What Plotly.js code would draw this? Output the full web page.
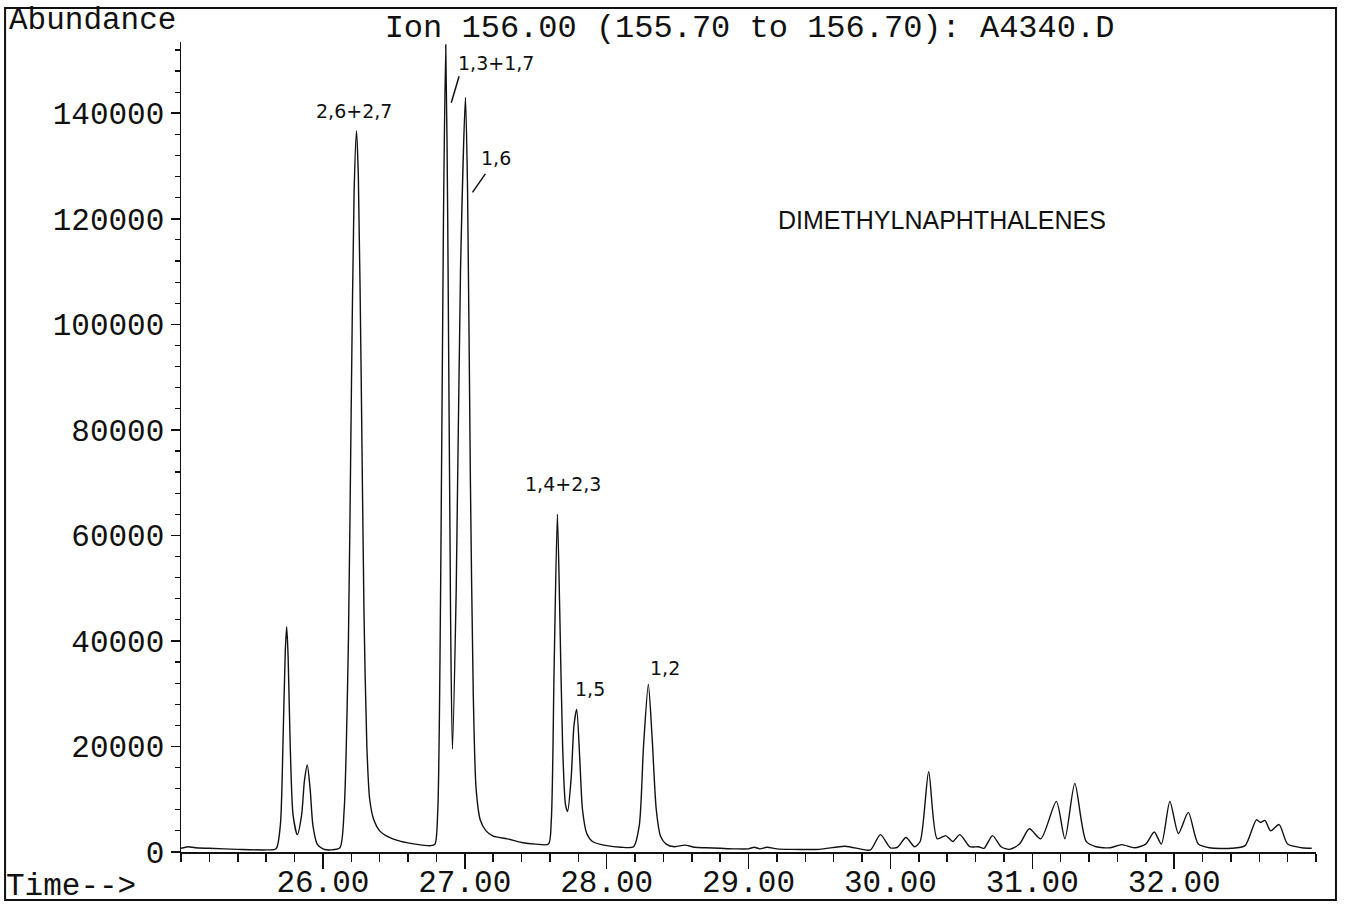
<!DOCTYPE html>
<html>
<head>
<meta charset="utf-8">
<script src="https://cdn.plot.ly/plotly-3.0.1.min.js"></script>
<style>html,body{margin:0;padding:0;background:#fff;}#chart{width:1345px;height:904px;}</style>
</head>
<body>
<div id="chart"></div>
<script>
// Retention time (min) and abundance
const times = [25.00,25.05,25.10,25.20,25.40,25.60,25.67,25.70,25.72,25.735,25.745,25.755,25.77,25.79,25.82,25.85,25.87,25.89,25.91,25.93,25.96,26.00,26.06,26.12,26.15,26.18,26.20,26.22,26.237,26.25,26.27,26.29,26.31,26.33,26.36,26.40,26.45,26.55,26.65,26.76,26.79,26.81,26.83,26.85,26.866,26.88,26.90,26.913,26.94,26.97,27.005,27.02,27.04,27.06,27.08,27.11,27.15,27.20,27.30,27.40,27.50,27.59,27.61,27.63,27.653,27.67,27.69,27.71,27.725,27.75,27.77,27.789,27.81,27.83,27.86,27.90,28.00,28.10,28.19,28.23,28.26,28.294,28.32,28.35,28.38,28.42,28.48,28.55,28.62,28.70,28.80,28.90,29.00,29.04,29.08,29.13,29.20,29.30,29.50,29.68,29.80,29.86,29.93,30.00,30.05,30.11,30.17,30.21,30.27,30.33,30.39,30.44,30.49,30.56,30.62,30.66,30.72,30.78,30.84,30.91,30.98,31.06,31.17,31.23,31.30,31.38,31.45,31.55,31.63,31.72,31.80,31.86,31.91,31.97,32.03,32.10,32.17,32.25,32.40,32.50,32.58,32.61,32.64,32.68,32.74,32.80,32.90,32.97];
const abundance = [700,1000,800,700,500,400,600,5000,22000,38000,42700,37000,20000,7000,3300,7000,13500,16500,12000,5000,1500,600,400,800,8000,40000,85000,125000,136700,128000,90000,45000,20000,10000,6000,4000,3000,2000,1500,1200,1500,8000,50000,120000,153000,120000,45000,19500,50000,110000,143000,125000,70000,30000,12000,6000,4000,3000,2500,1800,1500,1500,6000,35000,64000,45000,20000,9000,7700,14000,24000,27000,18000,8000,3500,2000,1200,900,1000,5000,20000,31750,22000,8000,3000,1500,1000,1300,900,800,700,600,600,900,600,900,600,500,500,1100,500,400,3300,800,900,2750,1000,2000,15200,2500,3100,2000,3300,1000,1000,700,3100,1000,500,1500,4400,2500,9600,2500,13000,2000,1000,800,1400,800,1500,3800,1500,9600,3500,7500,1500,800,700,1200,6100,5600,6000,4000,5200,1500,800,700];

const xTickVals = [26,27,28,29,30,31,32];
const xTickText = ["26.00","27.00","28.00","29.00","30.00","31.00","32.00"];
const yTickVals = [0,20000,40000,60000,80000,100000,120000,140000];
const yTickText = ["0","20000","40000","60000","80000","100000","120000","140000"];

// Hand-written peak labels: text, time and abundance where each is written
const peakLabels = ["2,6+2,7","1,3+1,7","1,6","1,4+2,3","1,5","1,2"];
const labelTimes = [26.22,27.22,27.22,27.69,27.88,28.41];
const labelAbund = [140500,149500,131500,69800,30800,34800];

const mono = "Courier New, Liberation Mono, monospace";
const hand = "DejaVu Sans, sans-serif";

const trace = {
  x: times, y: abundance, type: "scatter", mode: "lines",
  line: {color: "#111", width: 1.4, shape: "spline", smoothing: 0.7},
  hoverinfo: "x+y"
};

const annotations = peakLabels.map((t, i) => ({
  x: labelTimes[i], y: labelAbund[i], xref: "x", yref: "y",
  text: t, showarrow: false, font: {family: hand, size: 19, color: "#111"}
}));
annotations.push(
  {x: -0.153, y: 1.027, xref: "paper", yref: "paper", xanchor: "left", yanchor: "middle",
   text: "Abundance", showarrow: false, font: {family: mono, size: 31, color: "#111"}},
  {x: -0.156, y: -0.043, xref: "paper", yref: "paper", xanchor: "left", yanchor: "middle",
   text: "Time-->", showarrow: false, font: {family: mono, size: 31, color: "#111"}},
  {x: 0.524, y: 0.78, xref: "paper", yref: "paper", xanchor: "left", yanchor: "middle",
   text: "DIMETHYLNAPHTHALENES", showarrow: false, font: {family: "Liberation Sans, Arial, sans-serif", size: 25, color: "#111"}}
);

const shapes = [
  {type: "rect", xref: "paper", yref: "paper", x0: -0.155, x1: 1.0176, y0: -0.0593, y1: 1.042,
   line: {color: "#111", width: 2}, fillcolor: "rgba(0,0,0,0)"},
  {type: "line", xref: "x", yref: "y", x0: 26.96, y0: 147000, x1: 26.905, y1: 142000, line: {color: "#111", width: 1.5}},
  {type: "line", xref: "x", yref: "y", x0: 27.145, y0: 128500, x1: 27.055, y1: 125000, line: {color: "#111", width: 1.5}}
];

const layout = {
  width: 1345, height: 904,
  margin: {l: 181, r: 29, t: 42, b: 52},
  paper_bgcolor: "#fff", plot_bgcolor: "#fff",
  showlegend: false,
  title: {text: "Ion 156.00 (155.70 to 156.70): A4340.D", x: 0.286, xanchor: "left", xref: "container",
          y: 0.972, yanchor: "middle", yref: "container", font: {family: mono, size: 32, color: "#111"}},
  xaxis: {
    range: [25, 33], showgrid: false, zeroline: false, showline: true, linecolor: "#111", linewidth: 1.5,
    tickmode: "array", tickvals: xTickVals, ticktext: xTickText, ticks: "outside", ticklen: 15, tickwidth: 1.5, tickcolor: "#111",
    ticklabelstandoff: -14,
    tickfont: {family: mono, size: 31, color: "#111"},
    minor: {tick0: 25, dtick: 0.2, ticks: "outside", ticklen: 8, tickwidth: 1.5, tickcolor: "#111", showgrid: false},
    fixedrange: true
  },
  yaxis: {
    range: [0, 153500], showgrid: false, zeroline: false, showline: true, linecolor: "#111", linewidth: 1.5,
    tickmode: "array", tickvals: yTickVals, ticktext: yTickText, ticks: "outside", ticklen: 9, tickwidth: 1.5, tickcolor: "#111",
    tickfont: {family: mono, size: 31, color: "#111"},
    minor: {tick0: 0, dtick: 4000, ticks: "outside", ticklen: 5, tickwidth: 1.2, tickcolor: "#111", showgrid: false},
    fixedrange: true
  },
  annotations: annotations,
  shapes: shapes
};

Plotly.newPlot("chart", [trace], layout, {displayModeBar: false, staticPlot: true});
</script>
</body>
</html>
